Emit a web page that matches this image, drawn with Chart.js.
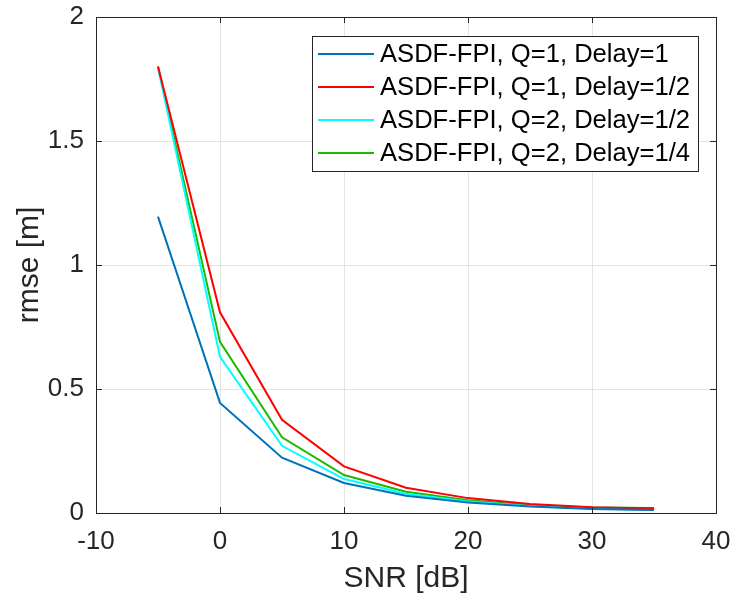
<!DOCTYPE html>
<html>
<head>
<meta charset="utf-8">
<script src="https://cdn.jsdelivr.net/npm/chart.js@4/dist/chart.umd.min.js"></script>
<style>
html,body{margin:0;padding:0;background:#fff;}
#wrap{width:734px;height:598px;}
</style>
</head>
<body>
<div id="wrap"><canvas id="c" width="734" height="598"></canvas></div>
<script>
const snr = [-5, 0, 5, 10, 15, 20, 25, 30, 35];
const q1d1   = [1.195, 0.444, 0.223, 0.121, 0.070, 0.042, 0.026, 0.016, 0.012];
const q1d12  = [1.800, 0.809, 0.376, 0.188, 0.102, 0.060, 0.036, 0.023, 0.018];
const q2d12  = [1.795, 0.630, 0.271, 0.137, 0.078, 0.046, 0.028, 0.018, 0.012];
const q2d14  = [1.800, 0.690, 0.305, 0.153, 0.086, 0.051, 0.031, 0.022, 0.020];
const seriesNames = ['ASDF-FPI, Q=1, Delay=1','ASDF-FPI, Q=1, Delay=1/2','ASDF-FPI, Q=2, Delay=1/2','ASDF-FPI, Q=2, Delay=1/4'];
const seriesColors = ['#0072BD','#FF0000','#00FFFF','#1DB800'];
const xTicks = [-10, 0, 10, 20, 30, 40];
const yTicks = [0, 0.5, 1, 1.5, 2];

const FONT = '"Liberation Sans", Arial, Helvetica, sans-serif';
const seriesVals = [q1d1, q1d12, q2d12, q2d14];

const datasets = seriesVals.map((vals, i) => ({
  label: seriesNames[i],
  data: snr.map((x, j) => ({x: x, y: vals[j]})),
  borderColor: seriesColors[i],
  backgroundColor: seriesColors[i],
  borderWidth: 2,
  pointRadius: 0,
  tension: 0,
  fill: false
}));

const boxPlugin = {
  id: 'boxPlugin',
  afterDraw(chart) {
    const ctx = chart.ctx;
    const a = chart.chartArea;
    const xs = chart.scales.x, ys = chart.scales.y;
    ctx.save();
    ctx.strokeStyle = '#262626';
    ctx.lineWidth = 1;
    const tl = 6;
    xTicks.forEach(v => {
      const px = Math.round(xs.getPixelForValue(v)) + 0.5;
      ctx.beginPath();
      ctx.moveTo(px, a.bottom); ctx.lineTo(px, a.bottom - tl);
      ctx.moveTo(px, a.top); ctx.lineTo(px, a.top + tl);
      ctx.stroke();
    });
    yTicks.forEach(v => {
      const py = Math.round(ys.getPixelForValue(v)) + 0.5;
      ctx.beginPath();
      ctx.moveTo(a.left, py); ctx.lineTo(a.left + tl, py);
      ctx.moveTo(a.right, py); ctx.lineTo(a.right - tl, py);
      ctx.stroke();
    });
    ctx.strokeRect(Math.round(a.left) + 0.5, Math.round(a.top) + 0.5, Math.round(a.right - a.left), Math.round(a.bottom - a.top));

    // legend
    const lx = 312, ly = 36, lw = 386, lh = 135;
    ctx.fillStyle = '#ffffff';
    ctx.fillRect(lx, ly, lw, lh);
    ctx.strokeStyle = '#262626';
    ctx.strokeRect(lx + 0.5, ly + 0.5, lw, lh);
    ctx.font = '25.6px ' + FONT;
    ctx.textBaseline = 'middle';
    ctx.textAlign = 'left';
    chart.data.datasets.forEach((ds, i) => {
      const cy = 54 + i * 33;
      ctx.strokeStyle = ds.borderColor;
      ctx.lineWidth = 2;
      ctx.beginPath();
      ctx.moveTo(318, cy); ctx.lineTo(374, cy);
      ctx.stroke();
      ctx.fillStyle = '#000000';
      ctx.fillText(ds.label, 380, cy + 1);
    });
    ctx.restore();
  }
};

new Chart(document.getElementById('c'), {
  type: 'line',
  data: { datasets: datasets },
  options: {
    responsive: false,
    animation: false,
    devicePixelRatio: 1,
    layout: { padding: { top: 17, right: 18, left: 0, bottom: 0 } },
    plugins: { legend: { display: false }, tooltip: { enabled: false } },
    scales: {
      x: {
        type: 'linear',
        min: -10, max: 40,
        afterBuildTicks(s) { s.ticks = xTicks.map(v => ({value: v})); },
        afterFit(s) { s.height = 85; s.paddingLeft = 0; s.paddingRight = 0; },
        grid: { color: '#e4e4e4', lineWidth: 1, drawTicks: false },
        border: { display: false },
        ticks: { color: '#262626', font: { family: FONT, size: 26 }, padding: 13, maxRotation: 0,
                 callback: v => String(v) },
        title: { display: true, text: 'SNR [dB]', color: '#262626', font: { family: FONT, size: 30 }, padding: { top: 0, bottom: 1 } }
      },
      y: {
        type: 'linear',
        min: 0, max: 2,
        afterBuildTicks(s) { s.ticks = yTicks.map(v => ({value: v})); },
        afterFit(s) { s.width = 96; s.paddingTop = 0; s.paddingBottom = 0; },
        grid: { color: '#e4e4e4', lineWidth: 1, drawTicks: false },
        border: { display: false },
        ticks: { color: '#262626', font: { family: FONT, size: 26 }, padding: 12,
                 callback: v => String(v) },
        title: { display: true, text: 'rmse [m]', color: '#262626', font: { family: FONT, size: 30 }, padding: { top: 12, bottom: 0 } }
      }
    }
  },
  plugins: [boxPlugin]
});
</script>
</body>
</html>
